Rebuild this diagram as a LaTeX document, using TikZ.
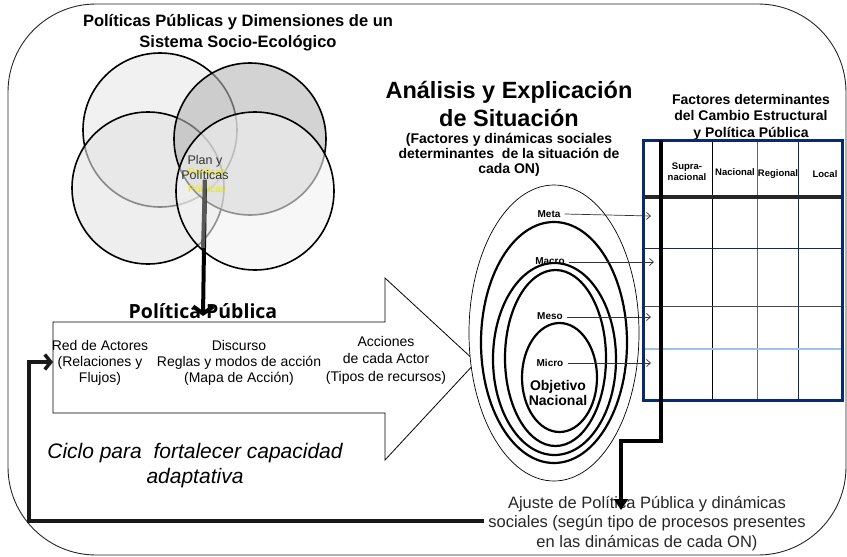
\documentclass[tikz,border=0pt]{standalone}
\usepackage{fontspec}
\setmainfont{Liberation Sans}
\newfontfamily\opensans{Open Sans}
\usetikzlibrary{arrows.meta}
\definecolor{navy}{HTML}{0B2A6E}
\definecolor{lblue}{HTML}{9DC3E6}
\definecolor{ylw}{HTML}{E8E800}
\newcommand{\fs}[2]{\fontsize{#1}{#2}\selectfont}
\begin{document}
\begin{tikzpicture}[x=1pt,y=-1pt,
  txt/.style={inner sep=0pt, align=center},
  circ/.style={draw=black, line width=1.6pt, fill opacity=0.6},
  ring/.style={draw=black, line width=2.2pt},
  lblarrow/.style={draw=black!80, line width=0.7pt, -{Straight Barb[length=4pt,width=7pt]}},
  thickconn/.style={draw=black, line width=4pt},
]
\useasboundingbox (0,0) rectangle (847,557);

% outer frame
\draw[black!85, line width=0.9pt, rounded corners=88pt] (8,4) rectangle (846,555);

% big arrow shape
\draw[black, line width=0.8pt] (53,322) -- (385,322) -- (385,278) -- (476,362) -- (385,460) -- (385,413) -- (53,413) -- cycle;

% circles
\path[circ, fill=gray!18] (160,130) circle (77pt);
\path[circ, fill=gray!22] (148,188) circle (76pt);
\path[circ, fill=gray!58] (250,139) circle (76pt);
\path[circ, fill=gray!11] (255,191) circle (79pt);

% texts
\node[txt, font=\bfseries\fs{16.5}{21}] (title) at (238,33) {Políticas Públicas y Dimensiones de un\\Sistema Socio-Ecológico};
\node[txt, text=ylw, font=\fs{10}{17}] (plany) at (207,180) {Políticas\\Públicas};
\node[txt, text=black!80, font=\fs{12.5}{15}] (plan) at (205,167.5) {Plan y\\Políticas};
\node[txt, font=\opensans\bfseries\fs{19.5}{22}] (pp) at (203,311) {Política Pública};
\coordinate (ppin) at (203,316);
\coordinate (pgray) at (203,248);

\node[txt, font=\fs{14}{16}] (red) at (100,363) {Red de Actores\\(Relaciones y\\Flujos)};
\node[txt, font=\fs{14}{16}] (disc) at (239,363) {Discurso\\Reglas y modos de acción\\(Mapa de Acción)};
\node[txt, font=\fs{14}{17.5}] (acc) at (386,360) {Acciones\\de cada Actor\\(Tipos de recursos)};
\node[txt, font=\itshape\fs{21}{25}] (ciclo) at (195,465.5) {Ciclo para\ \ fortalecer capacidad\\adaptativa};

\node[txt, font=\bfseries\fs{23.5}{28}] (anal) at (509,104) {Análisis y Explicación\\de Situación};
\node[txt, font=\bfseries\fs{14}{15}] (factdin) at (509,155) {(Factores y dinámicas sociales\\determinantes\ \ de la situación de\\cada ON)};
\node[txt, font=\bfseries\fs{14}{16.5}] (factdet) at (751,117) {Factores determinantes\\del Cambio Estructural\\y Política Pública};

% ellipses
\draw[black, line width=0.7pt, fill=white] (554,333) ellipse [x radius=85pt, y radius=148pt];
\draw[ring] (554,342.5) ellipse [x radius=73pt, y radius=120.5pt];
\draw[ring] (554.5,359) ellipse [x radius=61.5pt, y radius=96pt];
\draw[ring] (555.5,358) ellipse [x radius=50.5pt, y radius=88pt];
\draw[ring] (559.5,377.5) ellipse [x radius=37.5pt, y radius=54.5pt];

\node[txt, font=\bfseries\fs{10}{12}] (meta) at (549,214) {Meta};
\node[txt, font=\bfseries\fs{10}{12}] (macro) at (550,261) {Macro};
\node[txt, font=\bfseries\fs{10}{12}] (meso) at (550,316) {Meso};
\node[txt, font=\bfseries\fs{10}{12}] (micro) at (550,363) {Micro};
\node[txt, font=\bfseries\fs{14}{15}] (obj) at (558,392.5) {Objetivo\\Nacional};

% table
\draw[black, line width=0.8pt] (712,140) -- (712,400);
\draw[black!60, line width=0.8pt] (757,140) -- (757,400);
\draw[navy, line width=0.8pt] (798,140) -- (798,400);
\draw[navy, line width=0.8pt] (643,248) -- (842,248);
\draw[black!70, line width=0.8pt] (643,306) -- (842,306);
\draw[lblue, line width=1.3pt] (643,349) -- (842,349);
\draw[black!85, line width=4pt] (643,197) -- (842,197);
\draw[navy, line width=3pt] (643,140) rectangle (842,400);

\node[txt, font=\bfseries\fs{9.5}{11}] (hsup) at (687,171.5) {Supra-\\nacional};
\node[txt, font=\bfseries\fs{9.5}{11}] (hnac) at (735,172) {Nacional};
\node[txt, font=\bfseries\fs{9.5}{11}] (hreg) at (778,174) {Regional};
\node[txt, font=\bfseries\fs{9.5}{11}] (hloc) at (825,174) {Local};

\coordinate (tmeta) at (651,216);
\coordinate (tmacro) at (654,262);
\coordinate (tmeso) at (651,317);
\coordinate (tmicro) at (651,363);
\draw[lblarrow] ([xshift=4pt]meta.east) -- (tmeta);
\draw[lblarrow] ([xshift=4pt]macro.east |- tmacro) -- (tmacro);
\draw[lblarrow] ([xshift=4pt]meso.east |- tmeso) -- (tmeso);
\draw[lblarrow] ([xshift=4pt]micro.east |- tmicro) -- (tmicro);

% bottom text
\node[txt, text=black!85, font=\fs{16.5}{19.5}] (ajuste) at (647,523.5) {Ajuste de Política Pública y dinámicas\\sociales (según tipo de procesos presentes\\en las dinámicas de cada ON)};

% connectors
\coordinate (ttop) at (661,140);
\coordinate (ajin) at (621,510);
\draw[thickconn, -{Triangle[length=11pt,width=14pt]}] (ttop) -- (661,441) -- (621,441) -- (ajin);

\coordinate (loopstart) at (484,521);
\coordinate (redin) at (53,362);
\draw[black!90, line width=3.5pt, -{Straight Barb[length=6pt,width=15pt]}] (loopstart) -- (29,521) -- (29,362) -- (redin);

\draw[thickconn, -{Straight Barb[length=7pt,width=20pt]}] (plan.south) -- (ppin);
\draw[black!65, line width=4pt] (plan.south) -- (pgray);
\end{tikzpicture}
\end{document}
